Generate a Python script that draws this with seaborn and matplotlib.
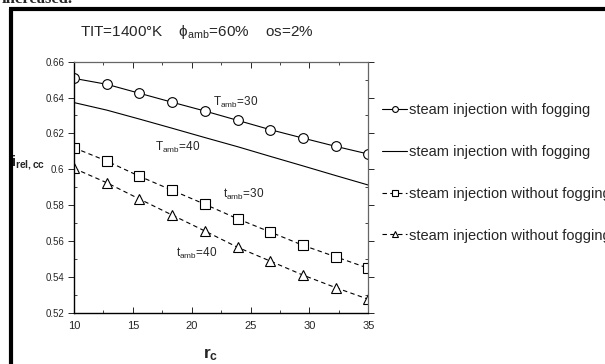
import matplotlib
matplotlib.use("Agg")
import matplotlib.pyplot as plt
import seaborn as sns
import numpy as np
from matplotlib.lines import Line2D
from matplotlib.ticker import MultipleLocator, FuncFormatter

# compressor pressure ratio
r_c = [10.0, 12.78, 15.56, 18.33, 21.11, 23.89, 26.67, 29.44, 32.22, 35.0]

# relative specific investment cost of the combined cycle
fog_t30 = [0.6507, 0.6474, 0.6424, 0.6374, 0.6325, 0.6273, 0.6221, 0.6174, 0.6128, 0.6085]
fog_t40 = [0.6372, 0.6330, 0.6280, 0.6229, 0.6177, 0.6126, 0.6072, 0.6019, 0.5965, 0.5912]
nofog_t30 = [0.6120, 0.6046, 0.5961, 0.5883, 0.5805, 0.5724, 0.5650, 0.5576, 0.5512, 0.5448]
nofog_t40 = [0.6005, 0.5925, 0.5834, 0.5745, 0.5656, 0.5565, 0.5488, 0.5410, 0.5340, 0.5275]

legend_labels = ["steam injection with fogging", "steam injection with fogging",
                 "steam injection without fogging", "steam injection without fogging"]

sns.set_style("ticks")
plt.rcParams["font.family"] = ["Liberation Sans", "DejaVu Sans"]
plt.rcParams["mathtext.fontset"] = "custom"
plt.rcParams["mathtext.rm"] = "Liberation Sans"
plt.rcParams["mathtext.it"] = "Liberation Sans:italic"
plt.rcParams["mathtext.bf"] = "Liberation Sans:bold"

W, H = 605, 364
fig = plt.figure(figsize=(W / 100, H / 100), dpi=100)
ax = fig.add_axes([74 / W, 1 - 312.7 / H, (368.3 - 74) / W, (312.7 - 61.7) / H])

lw = 0.8
sns.lineplot(x=r_c, y=fog_t30, ax=ax, color="black", lw=lw, marker="o", markersize=7,
             markerfacecolor="white", markeredgecolor="black", markeredgewidth=0.8,
             label=legend_labels[0])
sns.lineplot(x=r_c, y=fog_t40, ax=ax, color="black", lw=lw, label=legend_labels[1])
sns.lineplot(x=r_c, y=nofog_t30, ax=ax, color="black", lw=lw, linestyle=(0, (4, 3)),
             marker="s", markersize=7, markerfacecolor="white", markeredgecolor="black",
             markeredgewidth=0.8, label=legend_labels[2])
sns.lineplot(x=r_c, y=nofog_t40, ax=ax, color="black", lw=lw, linestyle=(0, (4, 3)),
             marker="^", markersize=7, markerfacecolor="white", markeredgecolor="black",
             markeredgewidth=0.8, label=legend_labels[3])

ax.set_xlim(10, 35)
ax.set_ylim(0.52, 0.66)
ax.xaxis.set_major_locator(MultipleLocator(5))
ax.xaxis.set_minor_locator(MultipleLocator(2.5))
ax.yaxis.set_major_locator(MultipleLocator(0.02))
ax.yaxis.set_minor_locator(MultipleLocator(0.01))
ax.yaxis.set_major_formatter(FuncFormatter(lambda v, p: f"{v:g}"))
ax.tick_params(axis="both", which="major", labelsize=7, length=4, width=0.7,
               top=True, right=True, direction="in", pad=3)
ax.tick_params(axis="x", which="major", labelsize=8, pad=6)
ax.tick_params(axis="both", which="minor", length=2.5, width=0.6,
               top=True, right=True, direction="in")
ax.tick_params(axis="y", which="major", direction="out", left=True)
for side in ["left", "bottom"]:
    ax.spines[side].set_color("black")
    ax.spines[side].set_linewidth(1.0)
for side in ["top", "right"]:
    ax.spines[side].set_visible(True)
    ax.spines[side].set_color("#666666")
    ax.spines[side].set_linewidth(0.9)
ax.set_xlabel("")
ax.set_ylabel("")

# curve annotations
ann = dict(fontsize=8.5, ha="center", va="center")
ax.text(23.76, 0.6375, r"T$_{\mathregular{amb}}$=30", **ann)
ax.text(18.83, 0.6119, r"T$_{\mathregular{amb}}$=40", **ann)
ax.text(24.44, 0.5857, r"t$_{\mathregular{amb}}$=30", **ann)
ax.text(20.45, 0.5533, r"t$_{\mathregular{amb}}$=40", **ann)

# axis titles
fig.text(28 / W, 1 - 163 / H, r"$\mathbf{i_{rel,cc}}$", fontsize=10.5,
         ha="center", va="center")
fig.text(211 / W, 1 - 355 / H, r"$\mathbf{r_{c}}$", fontsize=12.5,
         ha="center", va="center")

# operating conditions
fig.text(80 / W, 1 - 32 / H,
         r"TIT=1400°K    ϕ$_{\mathregular{amb}}$=60%    os=2%",
         fontsize=11, ha="left", va="center")

# legend to the right of the axes
leg = ax.legend(loc="center left", bbox_to_anchor=(375 / W, 1 - 173 / H),
                bbox_transform=fig.transFigure, frameon=False, fontsize=10.5,
                handlelength=1.7, handletextpad=0.1, labelspacing=1.9,
                markerscale=0.6, borderpad=0)

# page frame and clipped line of text above it
fig.add_artist(Line2D([10.5 / W, 10.5 / W], [0, 1 - 8.5 / H], color="black", lw=3.0,
                      transform=fig.transFigure, solid_capstyle="butt"))
fig.add_artist(Line2D([9 / W, 1], [1 - 8.5 / H, 1 - 8.5 / H], color="black", lw=3.0,
                      transform=fig.transFigure, solid_capstyle="butt"))
fig.text(2 / W, 1 - 3 / H, "increased.", fontsize=12, fontweight="bold",
         family="Liberation Serif", ha="left", va="baseline")

fig.savefig("out.png", dpi=100)
